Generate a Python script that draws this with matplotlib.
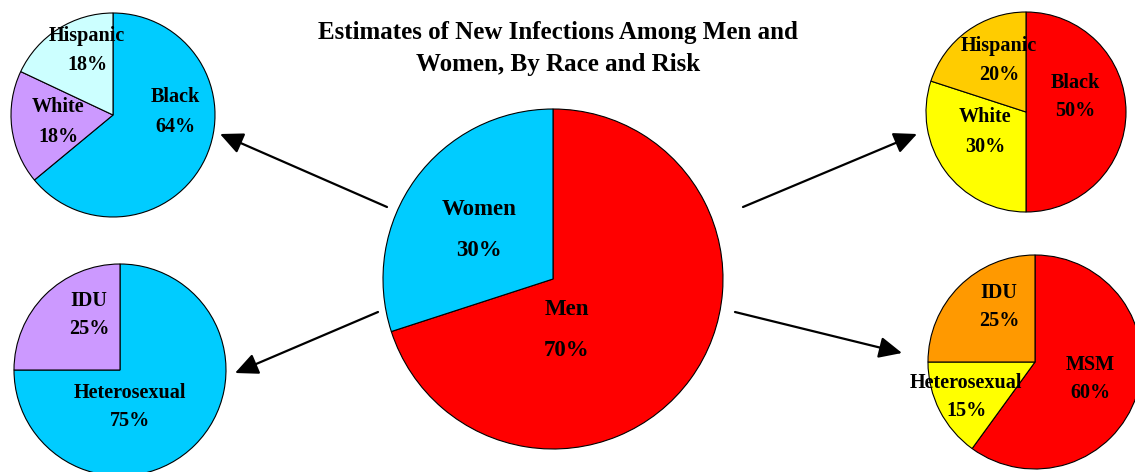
import matplotlib
matplotlib.use('Agg')
import matplotlib.pyplot as plt
from matplotlib.patches import FancyArrowPatch

W, H = 1135, 472

# Overall split
sex_labels = ['Men', 'Women']
sex_values = [70, 30]

# Women by race
women_race_labels = ['Black', 'White', 'Hispanic']
women_race_values = [64, 18, 18]

# Women by risk
women_risk_labels = ['Heterosexual', 'IDU']
women_risk_values = [75, 25]

# Men by race
men_race_labels = ['Black', 'White', 'Hispanic']
men_race_values = [50, 30, 20]

# Men by risk
men_risk_labels = ['MSM', 'Heterosexual', 'IDU']
men_risk_values = [60, 15, 25]

title = 'Estimates of New Infections Among Men and\nWomen, By Race and Risk'

plt.rcParams['font.family'] = ['Liberation Serif', 'DejaVu Serif']
plt.rcParams['font.weight'] = 'bold'

fig = plt.figure(figsize=(W / 100, H / 100), dpi=100)
ax = fig.add_axes([0, 0, 1, 1])


def up(y):
    # layout is worked out in screen pixels, top down
    return H - y


def draw_pie(values, labels, colors, cx, cy, r, label_xy, size=14.5, spacing=1.6):
    ax.pie(values, colors=colors, center=(cx, up(cy)), radius=r,
           startangle=90, counterclock=False,
           wedgeprops=dict(edgecolor='black', linewidth=0.8))
    for lab, val, (lx, ly) in zip(labels, values, label_xy):
        ax.text(lx, up(ly), f'{lab}\n{val}%', ha='center', va='center',
                fontsize=size, fontweight='bold', linespacing=spacing)


# center pie
draw_pie(sex_values, sex_labels, ['#FF0000', '#00CCFF'], 553, 279, 170,
         [(567, 330), (479, 230)], size=16.5, spacing=2.2)

# women: race (top left) and risk (bottom left)
draw_pie(women_race_values, women_race_labels, ['#00CCFF', '#CC99FF', '#CCFFFF'],
         113, 115, 102, [(175, 112), (58, 122), (87, 51)])
draw_pie(women_risk_values, women_risk_labels, ['#00CCFF', '#CC99FF'],
         120, 370, 106, [(130, 407), (89, 315)])

# men: race (top right) and risk (bottom right)
draw_pie(men_race_values, men_race_labels, ['#FF0000', '#FFFF00', '#FFCC00'],
         1026, 112, 100, [(1075, 97), (985, 132), (999, 61)])
draw_pie(men_risk_values, men_risk_labels, ['#FF0000', '#FFFF00', '#FF9900'],
         1035, 362, 107, [(1090, 379), (966, 397), (999, 307)])

# arrows from the center pie out to the breakdowns
arrows = [((387, 207), (220, 134)), ((378, 312), (235, 373)),
          ((743, 207), (917, 134)), ((735, 312), (902, 353))]
for (x0, y0), (x1, y1) in arrows:
    ax.add_patch(FancyArrowPatch((x0, up(y0)), (x1, up(y1)),
                                 arrowstyle='-|>,head_length=14,head_width=6.5',
                                 mutation_scale=1, shrinkA=0, shrinkB=0,
                                 color='black', linewidth=1.6))

ax.text(558, up(48), title, ha='center', va='center', fontsize=18,
        fontweight='bold', linespacing=1.5)

ax.set_xlim(0, W)
ax.set_ylim(0, H)
ax.set_aspect('auto')
ax.axis('off')

fig.savefig('out.png', dpi=100)
